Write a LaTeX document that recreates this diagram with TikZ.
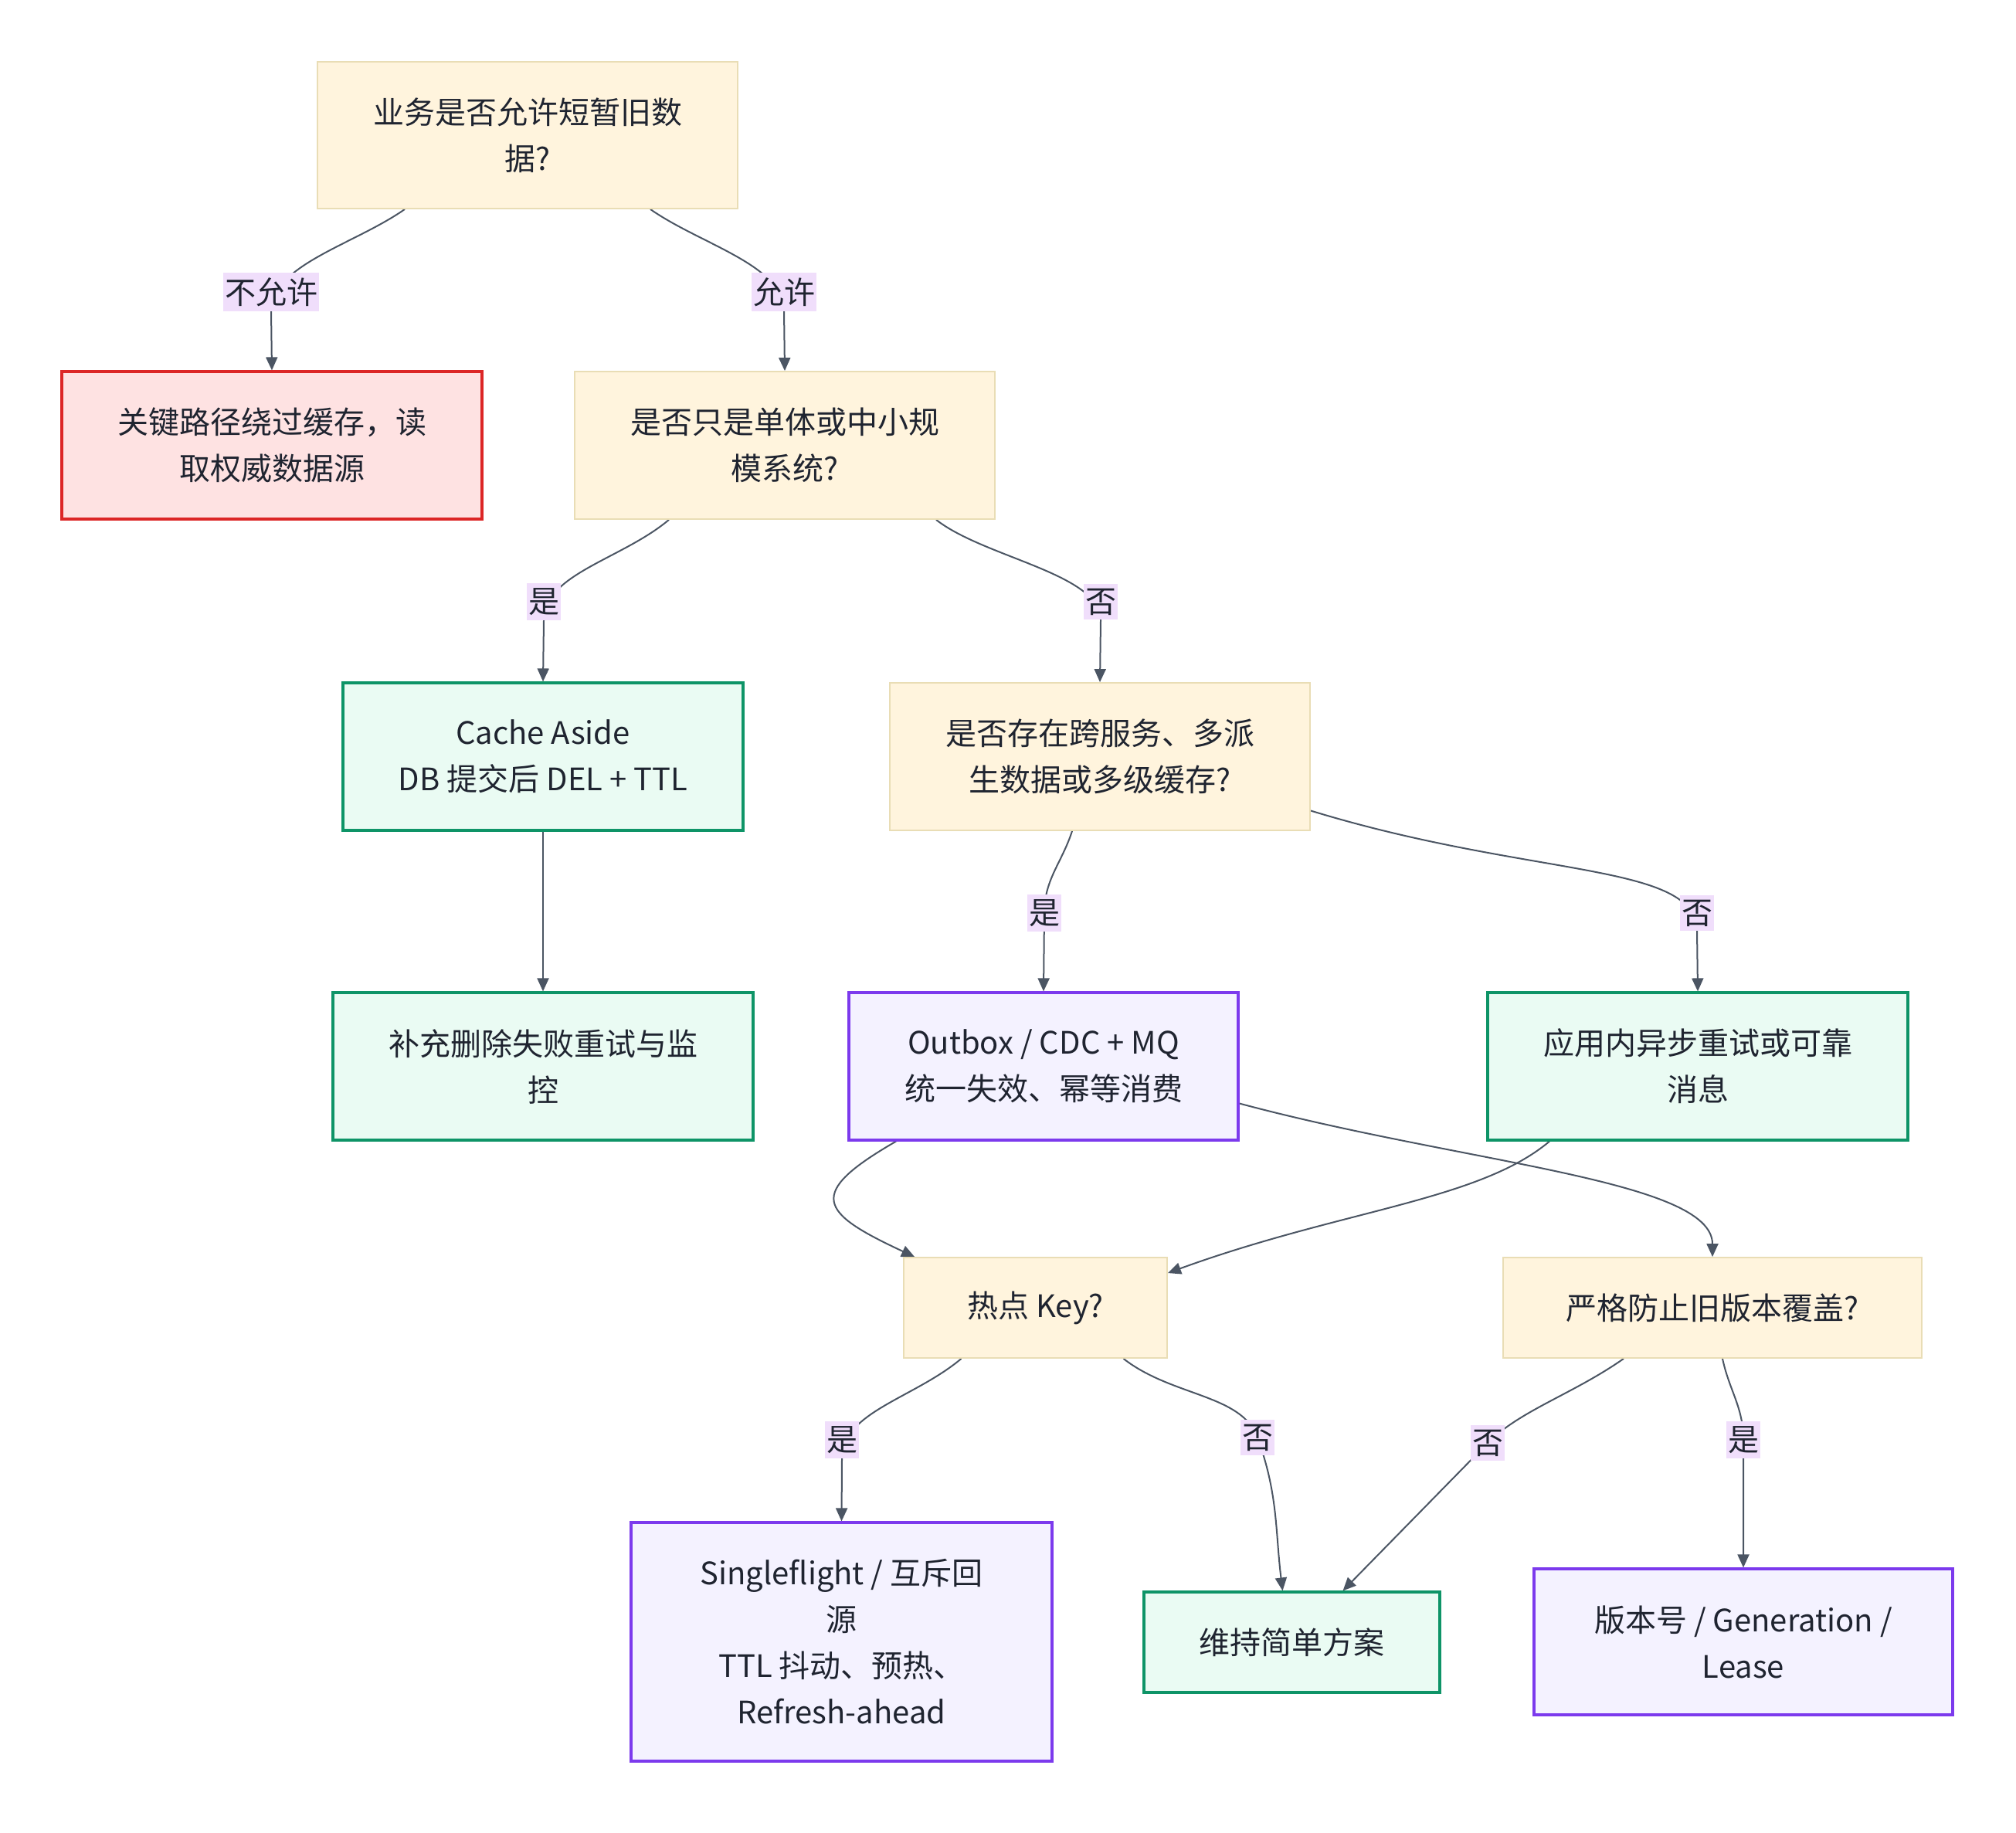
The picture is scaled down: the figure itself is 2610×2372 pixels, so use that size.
\documentclass[tikz,border=0pt]{standalone}
\usepackage{fontspec}
\setmainfont{Noto Sans CJK SC}
\usetikzlibrary{arrows.meta,backgrounds}
\definecolor{askfill}{HTML}{FFF4DD}
\definecolor{askline}{HTML}{E9DDB5}
\definecolor{redfill}{HTML}{FEE2E2}
\definecolor{redline}{HTML}{DC2626}
\definecolor{grnfill}{HTML}{EAFBF3}
\definecolor{grnline}{HTML}{0E9467}
\definecolor{purfill}{HTML}{F4F2FF}
\definecolor{purline}{HTML}{7C3AED}
\definecolor{lblfill}{HTML}{F0DEFB}
\definecolor{edgecol}{HTML}{4B5563}
\definecolor{txt}{HTML}{1F2430}
\begin{document}
\begin{tikzpicture}[x=0.5pt, y=-0.5pt, font=\fontsize{20}{30}\selectfont, text=txt,
  ask/.style={rectangle, fill=askfill, draw=askline, line width=0.9pt, align=center, inner sep=0pt},
  nogo/.style={rectangle, fill=redfill, draw=redline, line width=1.6pt, align=center, inner sep=0pt},
  okay/.style={rectangle, fill=grnfill, draw=grnline, line width=1.6pt, align=center, inner sep=0pt},
  heavy/.style={rectangle, fill=purfill, draw=purline, line width=1.6pt, align=center, inner sep=0pt},
  tag/.style={fill=lblfill, inner xsep=1pt, inner ysep=3pt},
  soft/.style={out distance=40pt, in distance=30pt},
  flow/.style={draw=edgecol, line width=1pt, -{Triangle[length=8.5pt,width=7.5pt]}}]
\useasboundingbox (0,0) rectangle (2610,2372);
\node[ask, minimum width=272pt, minimum height=95pt] (q1) at (683,175) {业务是否允许短暂旧数\\据?};
\node[nogo, minimum width=272pt, minimum height=95.5pt] (r1) at (352,576.5) {关键路径绕过缓存，读\\取权威数据源};
\node[ask, minimum width=272pt, minimum height=95.5pt] (q2) at (1016,576.5) {是否只是单体或中小规\\模系统?};
\node[okay, minimum width=259pt, minimum height=95.5pt] (g1) at (703,979.5) {Cache Aside\\DB 提交后 DEL + TTL};
\node[ask, minimum width=272pt, minimum height=95.5pt] (q3) at (1424,979.5) {是否存在跨服务、多派\\生数据或多级缓存?};
\node[okay, minimum width=272pt, minimum height=95.5pt] (g2) at (703,1380.5) {补充删除失败重试与监\\控};
\node[heavy, minimum width=252pt, minimum height=95.5pt] (p1) at (1351,1380.5) {Outbox / CDC + MQ\\统一失效、幂等消费};
\node[okay, minimum width=272pt, minimum height=95.5pt] (g3) at (2198,1380.5) {应用内异步重试或可靠\\消息};
\node[ask, minimum width=170.5pt, minimum height=65pt] (q4) at (1340.5,1693) {热点 Key?};
\node[ask, minimum width=271pt, minimum height=65pt] (q5) at (2217,1693) {严格防止旧版本覆盖?};
\node[heavy, minimum width=272.5pt, minimum height=154.5pt] (p2) at (1089.5,2125.5) {Singleflight / 互斥回\\源\\TTL 抖动、预热、\\Refresh-ahead};
\node[okay, minimum width=191.5pt, minimum height=65pt] (g4) at (1672.5,2126) {维持简单方案};
\node[heavy, minimum width=271pt, minimum height=94.5pt] (p3) at (2257,2125.5) {版本号 / Generation /\\Lease};
\node[tag] (l1) at (351,378) {不允许};
\node[tag] (l2) at (1015,378) {允许};
\node[tag] (l3) at (704,779) {是};
\node[tag] (l4) at (1425,779) {否};
\node[tag] (l5) at (1352,1182) {是};
\node[tag] (l6) at (2197,1182) {否};
\node[tag] (l9) at (1090,1864) {是};
\node[tag] (l10) at (1628,1861) {否};
\node[tag] (l11) at (1926,1868) {否};
\node[tag] (l12) at (2257,1864) {是};
\begin{scope}[on background layer]
\draw[flow] ([xshift=-79.5pt]q1.south) to[out=-145,in=90,soft] (l1.south) -- (r1.north);
\draw[flow] ([xshift=79.5pt]q1.south) to[out=-35,in=90,soft] (l2.south) -- (q2.north);
\draw[flow] ([xshift=-75pt]q2.south) to[out=-140,in=90,soft] (l3.south) -- (g1.north);
\draw[flow] ([xshift=98pt]q2.south) to[out=-38,in=90,soft] (l4.south) -- (q3.north);
\draw[flow] (g1.south) -- (g2.north);
\draw[flow] ([xshift=-18pt]q3.south) to[out=-108,in=90] (l5.center) -- (p1.north);
\draw[flow] ([yshift=-35pt]q3.east) to[out=-17,in=90,out distance=150pt,in distance=45pt] (l6.south) -- (g3.north);
\draw[flow] ([xshift=-95.5pt]p1.south) to[out=-150,in=155,looseness=2.3] ([xshift=7.5pt]q4.north west);
\draw[flow] ([yshift=-24pt]p1.east) to[out=-15,in=90,out distance=150pt,in distance=50pt] (q5.north);
\draw[flow] ([xshift=-96pt]g3.south) to[out=-140,in=20,out distance=60pt,in distance=120pt] ([yshift=22.5pt]q4.east);
\draw[flow] ([xshift=-48pt]q4.south) to[out=-140,in=90,soft] (l9.south) -- (p2.north);
\draw[flow] ([xshift=57pt]q4.south) to[out=-38,in=110,soft] (l10.center) to[out=-70,in=97] ([xshift=-6pt]g4.north);
\draw[flow] ([xshift=-57.5pt]q5.south) to[out=-145,in=45,soft] (l11.center) -- ([xshift=33pt]g4.north);
\draw[flow] ([xshift=6.5pt]q5.south) to[out=-78,in=90] (l12.center) -- (p3.north);
\end{scope}
\end{tikzpicture}
\end{document}
